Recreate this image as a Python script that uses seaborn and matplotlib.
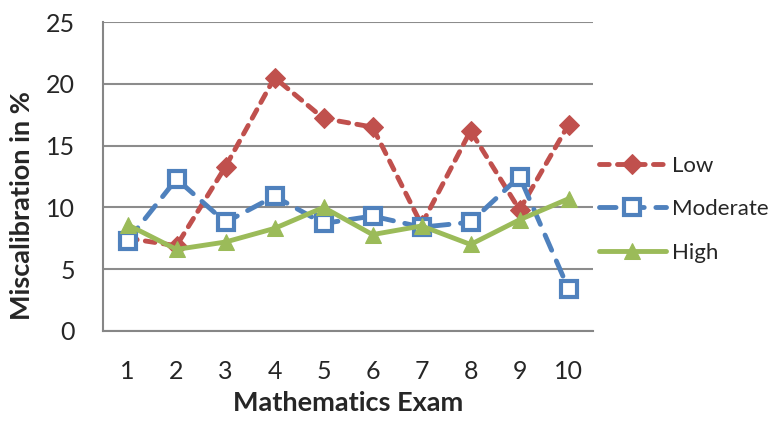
import matplotlib
matplotlib.use("Agg")
import matplotlib.pyplot as plt
import numpy as np
import pandas as pd
import seaborn as sns

exams = [1, 2, 3, 4, 5, 6, 7, 8, 9, 10]
low = [7.5, 6.9, 13.3, 20.5, 17.2, 16.5, 8.6, 16.2, 9.8, 16.7]
moderate = [7.3, 12.3, 8.8, 10.9, 8.7, 9.3, 8.4, 8.8, 12.5, 3.4]
high = [8.6, 6.6, 7.2, 8.3, 10.0, 7.8, 8.5, 7.0, 9.0, 10.7]
groups = ["Low", "Moderate", "High"]
y_ticks = [0, 5, 10, 15, 20, 25]

df = pd.DataFrame({
    "Exam": exams * 3,
    "Value": low + moderate + high,
    "Group": [g for g in groups for _ in exams],
})

sns.set_theme(style="white")
plt.rcParams["font.family"] = ["Lato", "DejaVu Sans"]

palette = {"Low": "#C0504D", "Moderate": "#4F81BD", "High": "#9BBB59"}
dashes = {"Low": (2.0, 1.7), "Moderate": (3.4, 2.4), "High": ""}
markers = {"Low": "D", "Moderate": "s", "High": "^"}

fig = plt.figure(figsize=(7.7, 4.21), dpi=100)
ax = fig.add_axes([0.1338, 0.2138, 0.6364, 0.7339])

sns.lineplot(data=df, x="Exam", y="Value", hue="Group", style="Group",
             palette=palette, dashes=dashes, markers=markers,
             hue_order=groups, style_order=groups,
             linewidth=3.5, markersize=10, ax=ax, legend=False)

# marker styling per series
for line, g in zip(ax.get_lines(), groups):
    line.set_markeredgecolor(palette[g])
    line.set_dash_capstyle("round")
    if g == "Moderate":
        line.set_markerfacecolor("white")
        line.set_markersize(12)
        line.set_markeredgewidth(3)
    elif g == "Low":
        line.set_markersize(10)
    else:
        line.set_markersize(12)

ax.set_xlim(0.5, 10.5)
ax.set_ylim(0, 25)
ax.set_yticks(y_ticks)
ax.set_xticks(exams)
ax.set_xticks(np.arange(0.5, 11, 1.0), minor=True)
ax.tick_params(axis="x", which="major", length=0, pad=21, labelsize=18, colors="#262626")
ax.tick_params(axis="x", which="minor", length=6, width=1.5, color="#868686", direction="out")
ax.tick_params(axis="y", which="major", length=5, width=1.5, color="#868686",
               direction="out", labelsize=18, labelcolor="#262626", pad=15)
ax.yaxis.grid(True, color="#8c8c8c", linewidth=1.5)
ax.set_axisbelow(True)

for side in ["top", "right"]:
    ax.spines[side].set_visible(False)
for side in ["left", "bottom"]:
    ax.spines[side].set_color("#868686")
    ax.spines[side].set_linewidth(1.5)

ax.set_xlabel("Mathematics Exam", fontsize=19.5, fontweight="bold", color="#262626")
ax.xaxis.set_label_coords(0.5, -0.195)
ax.set_ylabel("Miscalibration in %", fontsize=19.5, fontweight="bold", color="#262626")
ax.yaxis.set_label_coords(-0.141, 0.405)

handles = [l for l in ax.get_lines()[:3]]
leg = fig.legend(handles, groups, loc="center left", bbox_to_anchor=(0.778, 0.503),
                 frameon=False, fontsize=16, handlelength=3.0, labelspacing=1.05,
                 handletextpad=0.3, borderpad=0, borderaxespad=0)
for t in leg.get_texts():
    t.set_color("#262626")

fig.savefig("out.png", dpi=100)
